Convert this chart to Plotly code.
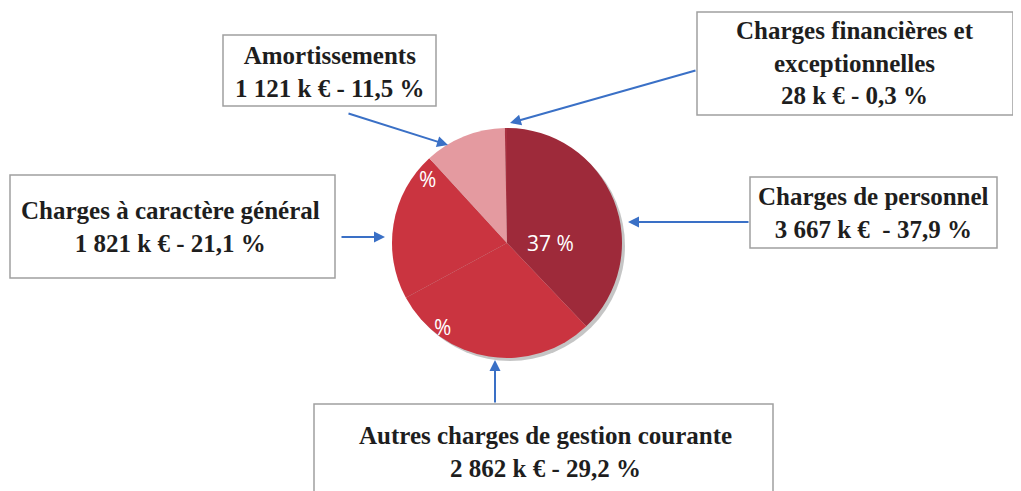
import plotly.graph_objects as go

# postes de charges
postes = ["Charges de personnel", "Autres charges de gestion courante",
          "Charges à caractère général", "Amortissements",
          "Charges financières et exceptionnelles"]
montants_k = ["3 667", "2 862", "1 821", "1 121", "28"]
parts = [37.9, 29.2, 21.1, 11.5, 0.3]
parts_txt = ["37,9", "29,2", "21,1", "11,5", "0,3"]
texte_part = ["37 %", "%", "%", "", ""]
couleurs = ["#9e2a3a", "#ca3440", "#ca3440", "#e49aa0", "#a83040"]

W, H = 1021, 491
OFF = 8  # marge du body de la page html


def px_x(v):
    return (v - OFF) / W


def px_y(v):
    return 1 - (v - OFF) / H


fig = go.Figure()

# ombre legere sous le camembert
fig.add_shape(type="circle", xref="paper", yref="paper",
              x0=px_x(395), x1=px_x(625), y0=px_y(361), y1=px_y(131),
              line=dict(width=0), fillcolor="rgba(90,90,90,0.35)", layer="below")

fig.add_trace(go.Pie(
    labels=postes, values=parts, textinfo="none",
    sort=False, direction="clockwise", rotation=0,
    marker=dict(colors=couleurs, line=dict(width=0)),
    domain=dict(x=[px_x(392), px_x(622)], y=[px_y(358), px_y(128)]),
    showlegend=False, hoverinfo="label+value",
))

police = dict(family="Liberation Serif", size=25, color="#1e1e1e")
bleu = "#3a70c6"

# boites : (x0, y0, x1, y1) en pixels, centre du texte, texte
boites = [
    ((223, 35, 436, 106), (330, 72), postes[3] + "<br>" + montants_k[3] + " k € - " + parts_txt[3] + " %"),
    ((697, 12, 1013, 115), (855, 63), "Charges financières et<br>exceptionnelles<br>" + montants_k[4] + " k € - " + parts_txt[4] + " %"),
    ((10, 175, 335, 278), (170, 227), postes[2] + "<br>" + montants_k[2] + " k € - " + parts_txt[2] + " %"),
    ((750, 177, 997, 248), (873, 213), postes[0] + "<br>" + montants_k[0] + " k €  - " + parts_txt[0] + " %"),
    ((314, 404, 773, 520), (545, 452), postes[1] + "<br>" + montants_k[1] + " k € - " + parts_txt[1] + " %"),
]
for (x0, y0, x1, y1), (cx, cy), txt in boites:
    fig.add_shape(type="rect", xref="paper", yref="paper",
                  x0=px_x(x0), x1=px_x(x1), y0=px_y(y1), y1=px_y(y0),
                  line=dict(color="#a0a0a0", width=1.5), fillcolor="white")
    fig.add_annotation(xref="paper", yref="paper", x=px_x(cx), y=px_y(cy),
                       text="<b>" + txt.replace("<br>", "</b><br><b>") + "</b>",
                       showarrow=False, font=police,
                       xanchor="center", yanchor="middle", align="center")

# fleches : pointe (x, y) et depart (x, y)
fleches = [
    ((448, 145), (347, 113)),
    ((510, 123), (697, 70)),
    ((385, 237), (340, 237)),
    ((628, 222), (750, 222)),
    ((495, 360), (495, 404)),
]
for (tx, ty), (sx, sy) in fleches:
    fig.add_annotation(xref="paper", yref="paper", x=px_x(tx), y=px_y(ty),
                       ax=sx - tx, ay=sy - ty, text="", showarrow=True,
                       arrowhead=2, arrowsize=1.1, arrowwidth=2, arrowcolor=bleu)

# etiquettes dans le camembert (seuls les morceaux visibles)
for txt, (cx, cy) in zip(texte_part[:3], [(550, 243), (442, 327), (427, 163)]):
    fig.add_annotation(xref="paper", yref="paper", x=px_x(cx), y=px_y(cy),
                       text=txt, showarrow=False,
                       font=dict(family="Open Sans", size=21, color="white"))

fig.update_layout(width=W, height=H, margin=dict(l=0, r=0, t=0, b=0),
                  paper_bgcolor="white", plot_bgcolor="white")
fig.write_html("out.html")
